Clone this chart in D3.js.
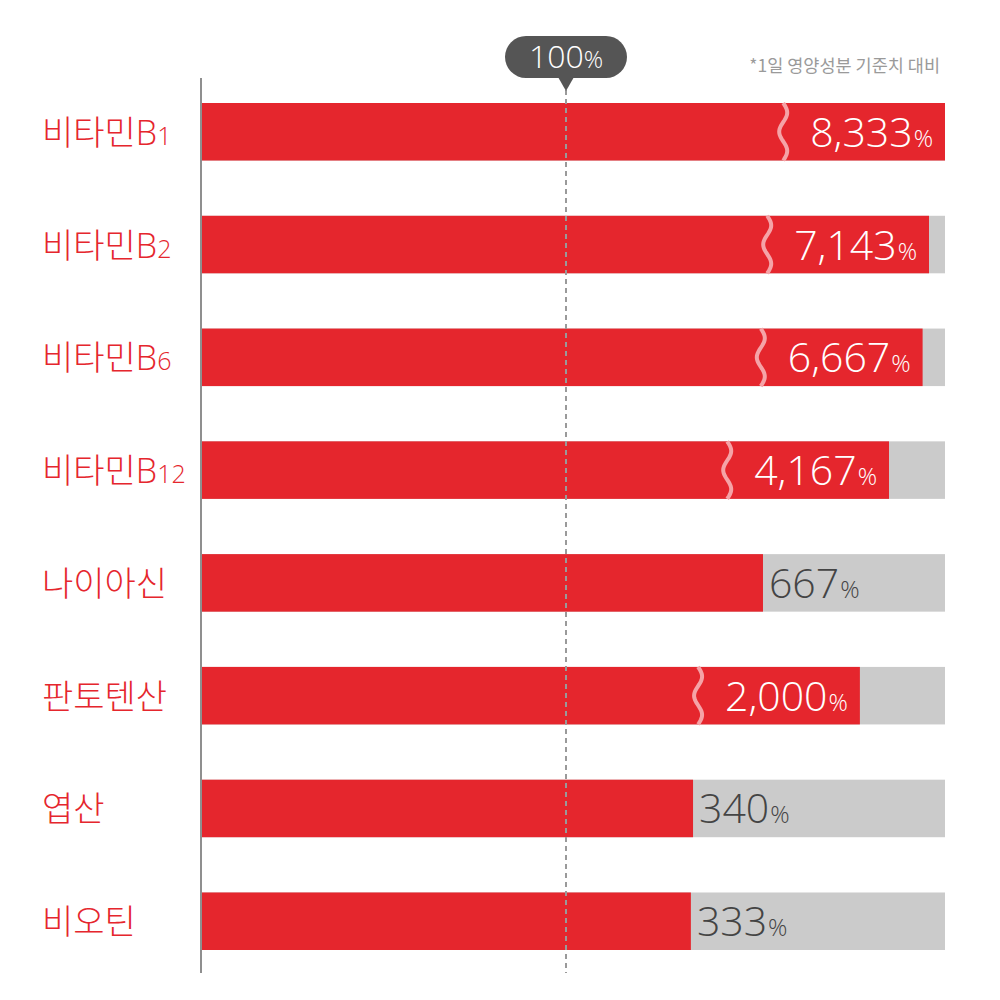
<!DOCTYPE html>
<html>
<head>
<meta charset="utf-8">
<script src="https://cdn.jsdelivr.net/npm/d3@7"></script>
<style>
  html, body { margin: 0; padding: 0; background: #fff; }
  svg { display: block; font-family: "Noto Sans CJK KR", "Noto Sans", sans-serif; }
  .num { font-family: "Open Sans", "Noto Sans", sans-serif; }
</style>
</head>
<body>
<svg id="chart" width="1000" height="1000"></svg>
<script>
// ---- data ----
const names    = ["비타민", "비타민", "비타민", "비타민", "나이아신", "판토텐산", "엽산", "비오틴"];
const suffixes = ["B", "B", "B", "B", "", "", "", ""];
const subs     = ["1", "2", "6", "12", "", "", "", ""];
const values   = [8333, 7143, 6667, 4167, 667, 2000, 340, 333];
const broken   = [true, true, true, true, false, true, false, false];
const refValue = 100;
const refLabel = "100";
const note     = "*1일 영양성분 기준치 대비";

// ---- layout ----
const svg = d3.select("#chart");
const X0 = 202, XEND = 945;
const RED = "#E5262D", GRAY = "#CBCBCB", DARK = "#444444";

const ids = values.map((v, i) => i);
const y = d3.scaleBand().domain(ids).range([103, 950]).paddingInner(0.49).paddingOuter(0);
const xLow = d3.scaleLog().domain([3, refValue]).range([X0, 566]);
const xHigh = d3.scaleLinear().domain([0, 8333]).range([833, XEND]);
const x = (v, br) => br ? xHigh(v) : xLow(v);

// background tracks
svg.append("g").selectAll("rect").data(ids).join("rect")
  .attr("x", X0).attr("y", i => y(i))
  .attr("width", XEND - X0).attr("height", y.bandwidth())
  .attr("fill", GRAY);

// bars
svg.append("g").selectAll("rect").data(ids).join("rect")
  .attr("x", X0).attr("y", i => y(i))
  .attr("width", i => x(values[i], broken[i]) - X0).attr("height", y.bandwidth())
  .attr("fill", RED);

// reference dashed line
const xr = xLow(refValue);
svg.append("line")
  .attr("x1", xr).attr("x2", xr).attr("y1", 90).attr("y2", 973)
  .attr("stroke", "#9a9a9a").attr("stroke-width", 2).attr("stroke-dasharray", "5,4");

// axis line
svg.append("line")
  .attr("x1", X0 - 1).attr("x2", X0 - 1).attr("y1", 78).attr("y2", 973)
  .attr("stroke", "#8f8f8f").attr("stroke-width", 2);

// value labels
const valG = svg.append("g");
const waveG = valG.append("g");
ids.forEach(i => {
  const v = values[i], br = broken[i];
  const end = x(v, br);
  const cy = y(i) + y.bandwidth() / 2;
  const t = valG.append("text")
    .attr("class", "num")
    .attr("y", cy + 15)
    .attr("fill", br ? "#ffffff" : DARK)
    .attr("font-weight", 300)
    .attr("text-anchor", br ? "end" : "start")
    .attr("x", br ? end - 12 : end + 6);
  t.append("tspan").attr("font-size", 41).text(d3.format(",")(v));
  t.append("tspan").attr("font-size", 24).attr("dx", 1).text("%");
  if (br) {
    const w = t.node().getComputedTextLength();
    const wx = end - 12 - w - 28;
    const h = y.bandwidth();
    const top = y(i);
    const pts = d3.range(0, 41).map(k => {
      const f = k / 40;
      return [wx + 4 * Math.sin(f * Math.PI * 3), top + f * h];
    });
    waveG.append("path")
      .attr("d", d3.line()(pts))
      .attr("fill", "none")
      .attr("stroke", "#F5A3A7")
      .attr("stroke-width", 4);
  }
});

// category labels
const catG = svg.append("g");
ids.forEach(i => {
  const cy = y(i) + y.bandwidth() / 2;
  const t = catG.append("text")
    .attr("x", 42).attr("y", cy + 13)
    .attr("fill", RED)
    .attr("font-weight", 300);
  t.append("tspan").attr("font-size", 34).text(names[i]);
  if (suffixes[i]) t.append("tspan").attr("class", "num").attr("font-size", 34).text(suffixes[i]);
  if (subs[i]) t.append("tspan").attr("class", "num").attr("font-size", 25).text(subs[i]);
});

// callout for 100%
const cg = svg.append("g");
const pw = 122, ph = 42, ptop = 36;
cg.append("rect")
  .attr("x", xr - 61).attr("y", ptop).attr("width", pw).attr("height", ph)
  .attr("rx", 21).attr("fill", "#555555");
cg.append("path")
  .attr("d", `M${xr - 8},${ptop + ph - 1} L${xr + 8},${ptop + ph - 1} L${xr},${ptop + ph + 13} Z`)
  .attr("fill", "#555555");
const ct = cg.append("text")
  .attr("class", "num")
  .attr("x", xr).attr("y", ptop + 32)
  .attr("text-anchor", "middle").attr("fill", "#ffffff").attr("font-weight", 300);
ct.append("tspan").attr("font-size", 32).text(refLabel);
ct.append("tspan").attr("font-size", 24).text("%");

// footnote
svg.append("text")
  .attr("x", 940).attr("y", 72)
  .attr("text-anchor", "end")
  .attr("font-size", 17.5)
  .attr("fill", "#9a9a9a")
  .text(note);
</script>
</body>
</html>
